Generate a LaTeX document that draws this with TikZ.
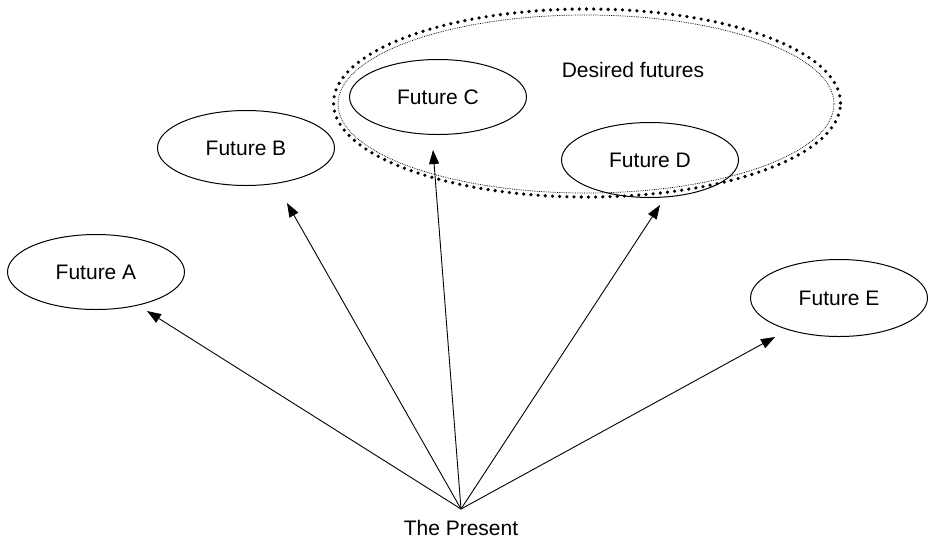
\documentclass[tikz,border=0pt]{standalone}
\usepackage{fontspec}
\setmainfont{Liberation Sans}
\usetikzlibrary{shapes.geometric,arrows.meta}
\begin{document}
\begin{tikzpicture}[x=1pt,y=-1pt,
  future/.style={draw, ellipse, line width=1pt, minimum width=177pt, minimum height=75pt, inner sep=0pt, font=\fontsize{21}{25}\selectfont},
  toward/.style={-{Triangle[length=14pt,width=10pt]}, line width=0.9pt},
  lbl/.style={font=\fontsize{21}{25}\selectfont, inner sep=0pt}]
\useasboundingbox (0,0) rectangle (928,539);

% desired-futures region: fine dotted outline with a heavy dotted ring around it
\node[draw, ellipse, line width=0.7pt, dash pattern=on 0.8pt off 1pt,
      minimum width=496pt, minimum height=178pt, inner sep=0pt] (region) at (586,104) {};
\node[draw, ellipse, line width=3.6pt, line cap=round, dash pattern=on 0pt off 7.2pt,
      minimum width=507pt, minimum height=188pt, inner sep=0pt] (ring) at (587,103) {};
\node[lbl] (desired) at (633,70) {Desired futures};

% the futures
\node[future] (A) at (96,272) {Future A};
\node[future] (B) at (246,148) {Future B};
\node[future] (C) at (438,97) {Future C};
\node[future] (D) at (650,160) {Future D};
\node[future, minimum height=77pt] (E) at (839,298) {Future E};

% the present
\coordinate (P) at (461,509);
\node[lbl, anchor=base] (present) at (461,535) {The Present};

% arrow ends just short of each future
\coordinate (tA) at (147,311);
\coordinate (tB) at (287,203);
\coordinate (tC) at (433,150);
\coordinate (tD) at (660,205);
\coordinate (tE) at (775,337);

\foreach \t in {tA,tB,tC,tD,tE}
  \draw[toward] (P) -- (\t);
\end{tikzpicture}
\end{document}
